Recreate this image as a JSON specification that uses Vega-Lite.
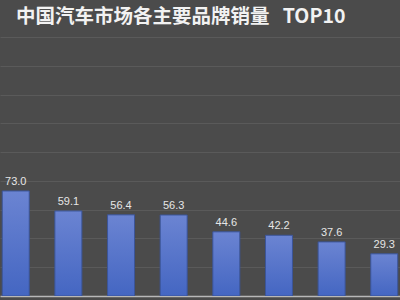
{
  "$schema": "https://vega.github.io/schema/vega-lite/v6.json",
  "width": 400,
  "height": 259,
  "autosize": {"type": "none"},
  "padding": {"top": 37, "left": 0, "right": 0, "bottom": 4},
  "background": "#4b4b4b",
  "title": {
    "text": "中国汽车市场各主要品牌销量\u00a0\u00a0\u00a0TOP10",
    "anchor": "start",
    "frame": "group",
    "offset": 10,
    "dx": 16,
    "font": "Noto Sans CJK SC",
    "fontSize": 19.5,
    "fontWeight": "bold",
    "color": "#f2f2f2"
  },
  "config": {"view": {"stroke": null}},
  "data": {
    "values": [
      {"rank": 1, "sales": 73.0},
      {"rank": 2, "sales": 59.1},
      {"rank": 3, "sales": 56.4},
      {"rank": 4, "sales": 56.3},
      {"rank": 5, "sales": 44.6},
      {"rank": 6, "sales": 42.2},
      {"rank": 7, "sales": 37.6},
      {"rank": 8, "sales": 29.3}
    ]
  },
  "encoding": {
    "x": {
      "field": "rank",
      "type": "quantitative",
      "scale": {"domain": [0.796, 8.204], "nice": false, "zero": false},
      "axis": {"labels": false, "ticks": false, "grid": false, "title": null, "domain": true, "domainColor": "#b8b8b8", "domainWidth": 1.5}
    },
    "y": {
      "field": "sales",
      "type": "quantitative",
      "scale": {"domain": [0, 180], "nice": false},
      "axis": {"values": [0, 20, 40, 60, 80, 100, 120, 140, 160, 180], "labels": false, "ticks": false, "domain": false, "title": null, "gridColor": "#5a5a5a", "gridWidth": 1}
    }
  },
  "layer": [
    {
      "mark": {
        "type": "bar",
        "size": 27,
        "clip": true,
        "stroke": "#3b5599",
        "strokeWidth": 1,
        "color": {
          "gradient": "linear",
          "x1": 0, "y1": 0, "x2": 0, "y2": 1,
          "stops": [
            {"offset": 0, "color": "#6b84d2"},
            {"offset": 1, "color": "#4466c2"}
          ]
        }
      }
    },
    {
      "mark": {"type": "text", "dy": -9, "fontSize": 11, "color": "#e6e6e6", "font": "Liberation Sans", "clip": true},
      "encoding": {"text": {"field": "sales", "type": "quantitative", "format": ".1f"}}
    }
  ]
}
